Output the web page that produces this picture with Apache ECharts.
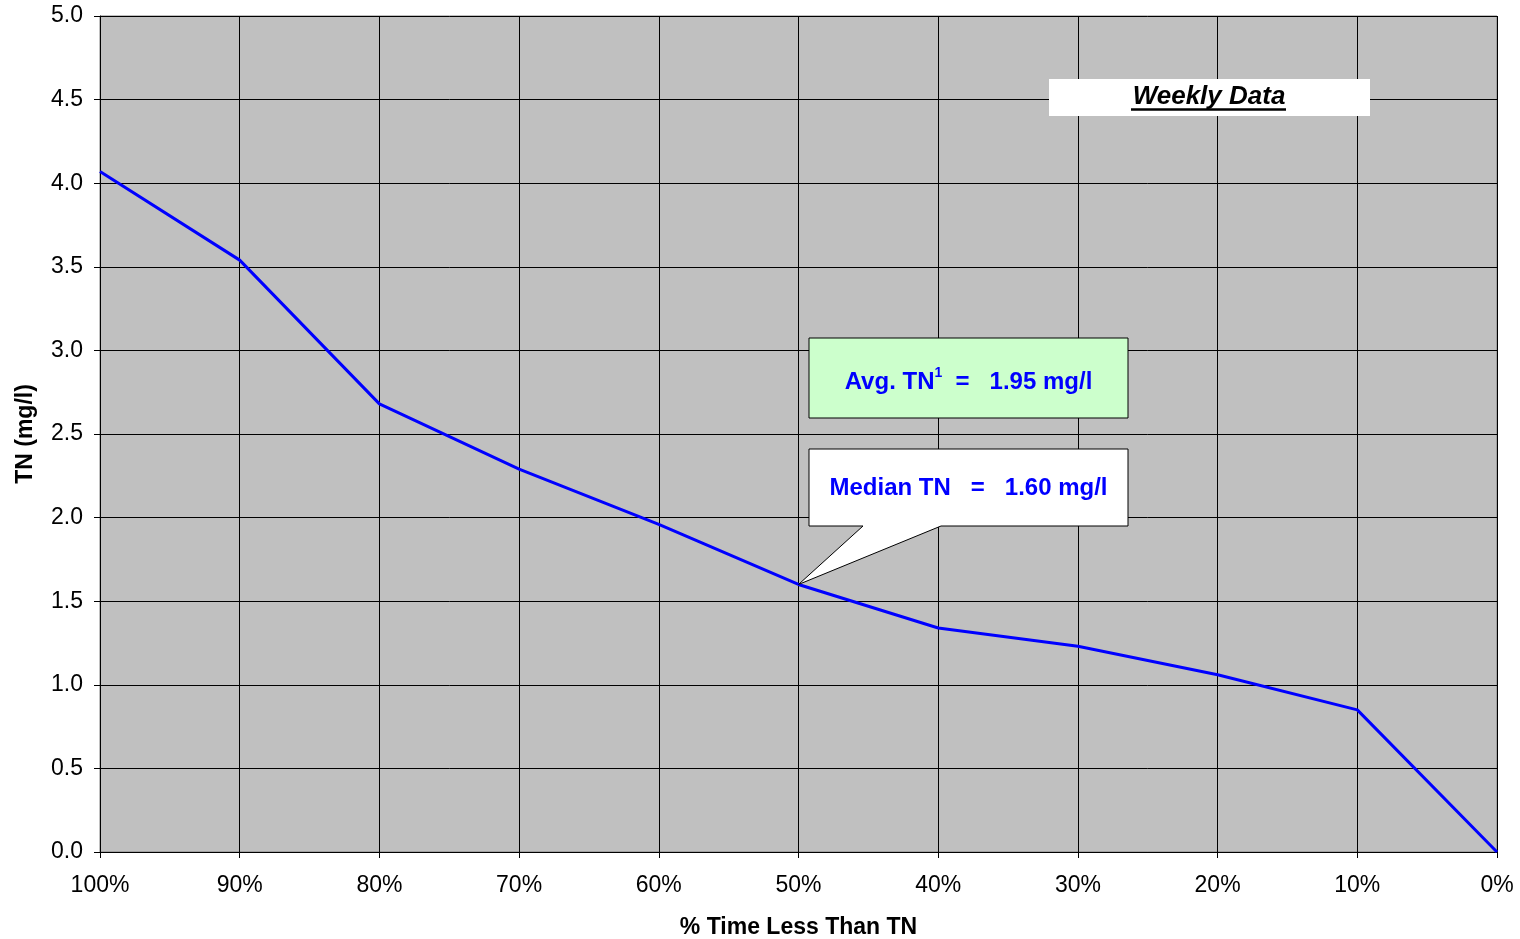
<!DOCTYPE html>
<html>
<head>
<meta charset="utf-8">
<script src="https://cdn.jsdelivr.net/npm/echarts@6/dist/echarts.min.js"></script>
<style>
  html, body { margin: 0; padding: 0; background: #ffffff; }
  #chart { width: 1520px; height: 939px; }
</style>
</head>
<body>
<div id="chart"></div>
<script>
// Exceedance categories (% of time less than the TN value)
const categories = ['100%', '90%', '80%', '70%', '60%', '50%', '40%', '30%', '20%', '10%', '0%'];
// TN concentration (mg/l) at each exceedance level
const tnValues = [4.07, 3.54, 2.68, 2.29, 1.96, 1.60, 1.34, 1.23, 1.06, 0.85, 0.00];
// Summary statistics shown in the callouts
const avgTN = 1.95;
const medianTN = 1.60;
const medianCategory = '50%';

const FONT = 'Liberation Sans, Arial, sans-serif';

const chart = echarts.init(document.getElementById('chart'), null, { renderer: 'canvas' });

const option = {
  animation: false,
  backgroundColor: '#ffffff',
  grid: {
    left: 100, right: 23, top: 16, bottom: 87,
    containLabel: false,
    outerBoundsMode: 'none',
    show: true,
    backgroundColor: '#C0C0C0',
    borderColor: '#808080',
    borderWidth: 1
  },
  xAxis: {
    type: 'category',
    data: categories,
    boundaryGap: false,
    axisLine: { lineStyle: { color: '#000000', width: 1 } },
    axisTick: { show: true, alignWithLabel: true, length: 6, lineStyle: { color: '#000000' } },
    axisLabel: { color: '#000000', fontFamily: FONT, fontSize: 23, margin: 22 },
    splitLine: { show: true, lineStyle: { color: '#000000', width: 1 } },
    name: '% Time Less Than TN',
    nameLocation: 'middle',
    nameGap: 64,
    nameTextStyle: { color: '#000000', fontFamily: FONT, fontSize: 23, fontWeight: 'bold' }
  },
  yAxis: {
    type: 'value',
    min: 0, max: 5, interval: 0.5,
    axisLine: { show: true, lineStyle: { color: '#000000', width: 1 } },
    axisTick: { show: true, length: 6, lineStyle: { color: '#000000' } },
    axisLabel: {
      color: '#000000', fontFamily: FONT, fontSize: 23, margin: 17,
      formatter: v => v.toFixed(1)
    },
    splitLine: { show: true, lineStyle: { color: '#000000', width: 1 } },
    name: 'TN (mg/l)',
    nameLocation: 'middle',
    nameGap: 63,
    nameTextStyle: { color: '#000000', fontFamily: FONT, fontSize: 23, fontWeight: 'bold' }
  },
  series: [{
    type: 'line',
    data: tnValues,
    symbol: 'none',
    lineStyle: { color: '#0000FF', width: 3 },
    z: 5
  }]
};

chart.setOption(option);

// Callout boxes; the median pointer tip sits on the median data point
const tip = chart.convertToPixel({ seriesIndex: 0 }, [categories.indexOf(medianCategory), medianTN]);

const boxLeft = 809, boxRight = 1128;
const avgTop = 338, avgBottom = 418;
const medTop = 449, medBottom = 526;

chart.setOption({
  graphic: [
    {
      type: 'rect', z: 10,
      shape: { x: 1049, y: 79, width: 321, height: 37 },
      style: { fill: '#ffffff', stroke: null }
    },
    {
      type: 'text', z: 11,
      x: 1209, y: 97,
      style: {
        text: 'Weekly Data',
        fill: '#000000',
        font: 'italic bold 26px ' + FONT,
        align: 'center', verticalAlign: 'middle'
      }
    },
    {
      type: 'line', z: 11,
      shape: { x1: 1131, y1: 109.5, x2: 1286, y2: 109.5 },
      style: { stroke: '#000000', lineWidth: 2.5 }
    },
    {
      type: 'rect', z: 10,
      shape: { x: boxLeft, y: avgTop, width: boxRight - boxLeft, height: avgBottom - avgTop },
      style: { fill: '#CCFFCC', stroke: '#000000', lineWidth: 1 }
    },
    {
      type: 'text', z: 11,
      x: (boxLeft + boxRight) / 2, y: (avgTop + avgBottom) / 2 + 2,
      style: {
        text: '{m|Avg. TN}{sup|1}{m|  =   ' + avgTN.toFixed(2) + ' mg/l}',
        align: 'center', verticalAlign: 'middle',
        rich: {
          m: { fill: '#0000FF', font: 'bold 24px ' + FONT, verticalAlign: 'bottom', lineHeight: 28 },
          sup: { fill: '#0000FF', font: 'bold 14px ' + FONT, verticalAlign: 'top', lineHeight: 28, padding: [0, 0, 13, 0] }
        }
      }
    },
    {
      type: 'polygon', z: 10,
      shape: {
        points: [
          [boxLeft, medTop], [boxRight, medTop], [boxRight, medBottom],
          [941, medBottom], tip, [863, medBottom], [boxLeft, medBottom]
        ]
      },
      style: { fill: '#ffffff', stroke: '#000000', lineWidth: 1 }
    },
    {
      type: 'text', z: 11,
      x: (boxLeft + boxRight) / 2, y: 488,
      style: {
        text: 'Median TN   =   ' + medianTN.toFixed(2) + ' mg/l',
        fill: '#0000FF',
        font: 'bold 24px ' + FONT,
        align: 'center', verticalAlign: 'middle'
      }
    }
  ]
});
</script>
</body>
</html>
